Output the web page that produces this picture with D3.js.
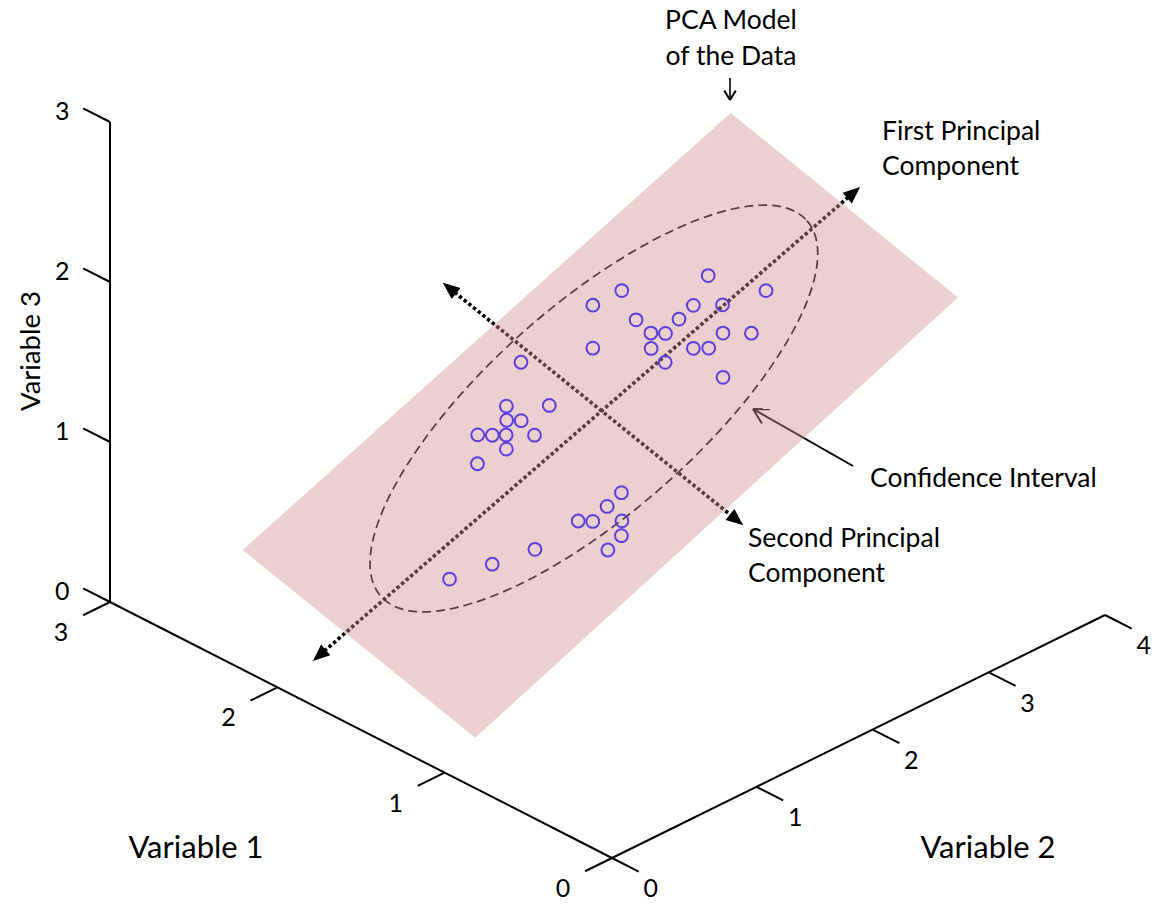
<!DOCTYPE html>
<html>
<head>
<meta charset="utf-8">
<script src="https://cdn.jsdelivr.net/npm/d3@7"></script>
<style>
  body { margin: 0; background: #fff; }
  svg text { font-family: Lato, "Open Sans", sans-serif; fill: #000; }
</style>
</head>
<body>
<svg id="chart" width="1156" height="905"></svg>
<script>
// tick values of the three original variables
const var1Ticks = [0, 1, 2, 3];
const var2Ticks = [0, 1, 2, 3, 4];
const var3Ticks = [0, 1, 2, 3];

// observations as scores on the PCA plane (PC1, PC2)
const pc1Scores = [1.75, 1.08, 2.00, 0.78, 1.42, 1.61, 0.94, 1.22, 0.93, 1.02,
  1.39, 1.57, 0.44, 0.81, 1.08, 1.18, 0.79, -0.13, 1.04,
  -0.57, -0.29, -0.68, -0.59, -0.98, -0.89, -0.80, -0.62, -0.91, -1.21,
  -0.52, -0.72, -1.02, -0.93, -0.74, -0.86, -1.06, -1.52, -1.91, -2.30];
const pc2Scores = [-0.33, -0.79, 0.17, -0.87, -0.20, -0.01, -0.47, -0.19, -0.27, -0.17,
  0.21, 0.40, -0.54, -0.15, 0.13, 0.23, 0.05, -0.91, 0.55,
  -0.67, -0.39, -0.56, -0.46, -0.64, -0.54, -0.45, -0.26, -0.34, -0.42,
  0.76, 0.77, 0.69, 0.79, 0.98, 1.09, 1.11, 0.62, 0.45, 0.28];

// PCA model, in PC units
const planePC1 = [3.18, 3.17, -3.39, -3.39];
const planePC2 = [-1.43, 1.50, 1.67, -1.32];
const pc1Arrow = [-3.82, 3.42];
const pc2Arrow = [-2.04, 1.82];
const ellipseCenter = [-0.03, -0.07];
const ellipseRadii = [2.84, 1.04];

const svg = d3.select("#chart");

// --- oblique 3D frame for the variable axes ---
const origin = [612, 858];
const v1Vec = [110 - 612, 602 - 858];
const v2Vec = [1105 - 612, 615 - 858];
const v3Vec = [0, -480];
const v1Scale = d3.scaleLinear().domain([0, 3]).range([0, 1]);
const v2Scale = d3.scaleLinear().domain([0, 1, 4]).range([0, 0.293, 1]);
const v3Scale = d3.scaleLinear().domain([0, 3]).range([0, 1]);

function project(a, b, c) {
  const s1 = v1Scale(a), s2 = v2Scale(b), s3 = v3Scale(c);
  return [
    origin[0] + s1 * v1Vec[0] + s2 * v2Vec[0] + s3 * v3Vec[0],
    origin[1] + s1 * v1Vec[1] + s2 * v2Vec[1] + s3 * v3Vec[1],
  ];
}
const unit = (v) => {
  const l = Math.hypot(v[0], v[1]);
  return [v[0] / l, v[1] / l];
};
const dir1 = unit(v1Vec);
const dir2 = unit(v2Vec);
const tickLen = 30;

// --- PCA plane frame ---
const pcCenter = [601.6, 410.9];
const pcScale = d3.scaleLinear().domain([0, 1]).range([0, 100]);
const deg1 = -40.9;
const deg2 = 38.9;
const u1 = [Math.cos((deg1 * Math.PI) / 180), Math.sin((deg1 * Math.PI) / 180)];
const u2 = [Math.cos((deg2 * Math.PI) / 180), Math.sin((deg2 * Math.PI) / 180)];

function pcPoint(a, b) {
  return [
    pcCenter[0] + pcScale(a) * u1[0] + pcScale(b) * u2[0],
    pcCenter[1] + pcScale(a) * u1[1] + pcScale(b) * u2[1],
  ];
}

const line = d3.line();

// layer under the plane: ellipse, PC axes, confidence interval pointer
const under = svg.append("g");

const ec = pcPoint(ellipseCenter[0], ellipseCenter[1]);
under
  .append("ellipse")
  .attr("transform", `translate(${ec[0]},${ec[1]}) rotate(${deg1 - 0.5})`)
  .attr("rx", pcScale(ellipseRadii[0]))
  .attr("ry", pcScale(ellipseRadii[1]))
  .attr("fill", "none")
  .attr("stroke", "#000")
  .attr("stroke-width", 1.7)
  .attr("stroke-dasharray", "9 5");

const headLen = 17;
const headHalf = 7;
const pcLines = [
  [pcPoint(pc1Arrow[0], 0), pcPoint(pc1Arrow[1], 0)],
  [pcPoint(0, pc2Arrow[0]), pcPoint(0, pc2Arrow[1])],
];

// shorten the dotted lines so they stop at the arrow heads
function shorten(p, q, d) {
  const u = unit([q[0] - p[0], q[1] - p[1]]);
  return [q[0] - u[0] * d, q[1] - u[1] * d];
}
pcLines.forEach(([p, q]) => {
  under
    .append("path")
    .attr("d", line([shorten(q, p, headLen - 2), shorten(p, q, headLen - 2)]))
    .attr("stroke", "#000")
    .attr("stroke-width", 3.6)
    .attr("stroke-dasharray", "3.4 2.6");
});

// confidence interval pointer
const ciFrom = [853, 466];
const ciTip = [753, 409];
function openHead(g, from, tip, len, spread) {
  const a = Math.atan2(from[1] - tip[1], from[0] - tip[0]);
  [-spread, spread].forEach((s) => {
    g.append("path")
      .attr("d", line([tip, [tip[0] + len * Math.cos(a + s), tip[1] + len * Math.sin(a + s)]]))
      .attr("stroke", "#000")
      .attr("stroke-width", 2)
      .attr("fill", "none");
  });
}
under
  .append("path")
  .attr("d", line([ciFrom, ciTip]))
  .attr("stroke", "#000")
  .attr("stroke-width", 2);
openHead(under, ciFrom, ciTip, 17, 0.5);

// the PCA plane, semi transparent
const planeCorners = d3.zip(planePC1, planePC2).map((d) => pcPoint(d[0], d[1]));
svg
  .append("path")
  .attr("d", line(planeCorners) + "Z")
  .attr("fill", "rgb(210,143,143)")
  .attr("fill-opacity", 0.42);

// solid arrow heads
pcLines.forEach(([p, q]) => {
  [[p, q], [q, p]].forEach(([from, tip]) => {
    const u = unit([tip[0] - from[0], tip[1] - from[1]]);
    const n = [-u[1], u[0]];
    const base = [tip[0] - u[0] * headLen, tip[1] - u[1] * headLen];
    svg
      .append("path")
      .attr("d", line([tip, [base[0] + n[0] * headHalf, base[1] + n[1] * headHalf], [base[0] - n[0] * headHalf, base[1] - n[1] * headHalf]]) + "Z")
      .attr("fill", "#000");
  });
});

// observations
svg
  .append("g")
  .selectAll("circle")
  .data(d3.zip(pc1Scores, pc2Scores))
  .join("circle")
  .attr("cx", (d) => pcPoint(d[0], d[1])[0])
  .attr("cy", (d) => pcPoint(d[0], d[1])[1])
  .attr("r", 6.4)
  .attr("fill", "none")
  .attr("stroke", "#5b40dc")
  .attr("stroke-width", 2);

// --- variable axes ---
const axes = svg.append("g").attr("stroke", "#000").attr("stroke-width", 2).attr("fill", "none");
axes.append("path").attr("d", line([project(3, 0, 0), project(3, 0, 3)]));
axes.append("path").attr("d", line([project(3, 0, 0), project(0, 0, 0)]));
axes.append("path").attr("d", line([project(0, 0, 0), project(0, 4, 0)]));

const labels = svg.append("g").attr("font-size", 25).attr("text-anchor", "middle");

var3Ticks.forEach((k) => {
  const p = project(3, 0, k);
  const e = [p[0] + dir1[0] * tickLen, p[1] + dir1[1] * tickLen];
  axes.append("path").attr("d", line([p, e]));
  labels.append("text").attr("x", e[0] - 21).attr("y", e[1] + 3).attr("dy", "0.35em").text(k);
});
var1Ticks.forEach((k) => {
  const p = project(k, 0, 0);
  const e = [p[0] - dir2[0] * tickLen, p[1] - dir2[1] * tickLen];
  axes.append("path").attr("d", line([p, e]));
  labels.append("text").attr("x", e[0] - 22).attr("y", e[1] + 17).attr("dy", "0.35em").text(k);
});
var2Ticks.forEach((k) => {
  const p = project(0, k, 0);
  const e = [p[0] - dir1[0] * tickLen, p[1] - dir1[1] * tickLen];
  axes.append("path").attr("d", line([p, e]));
  labels.append("text").attr("x", e[0] + 12).attr("y", e[1] + 17).attr("dy", "0.35em").text(k);
});

// axis titles
const titles = svg.append("g").attr("text-anchor", "middle");
titles.append("text").attr("font-size", 27.5).attr("transform", "translate(30,351) rotate(-90)").attr("dy", "0.35em").text("Variable 3");
titles.append("text").attr("font-size", 31).attr("x", 196).attr("y", 847).attr("dy", "0.35em").text("Variable 1");
titles.append("text").attr("font-size", 31).attr("x", 988).attr("y", 847).attr("dy", "0.35em").text("Variable 2");

// annotations
const notes = svg.append("g").attr("font-size", 26.5);
const note = (x, y, t, anchor) =>
  notes.append("text").attr("x", x).attr("y", y).attr("dy", "0.35em").attr("text-anchor", anchor || "start").text(t);
note(731, 20, "PCA Model", "middle");
note(731, 56, "of the Data", "middle");
note(882, 131, "First Principal");
note(882, 166, "Component");
note(870, 478, "Confidence Interval");
note(748, 538, "Second Principal");
note(748, 573, "Component");

const pcaFrom = [730, 78];
const pcaTip = [730, 100];
svg.append("path").attr("d", line([pcaFrom, pcaTip])).attr("stroke", "#000").attr("stroke-width", 1.6);
openHead(svg, pcaFrom, pcaTip, 11, 0.55);
</script>
</body>
</html>
